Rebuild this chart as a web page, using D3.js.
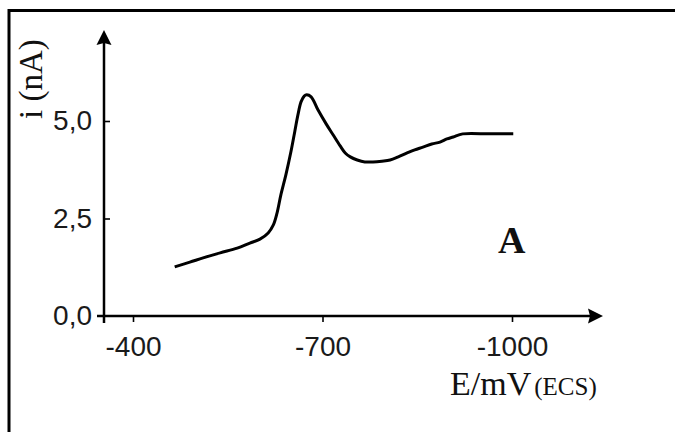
<!DOCTYPE html>
<html>
<head>
<meta charset="utf-8">
<script src="https://cdn.jsdelivr.net/npm/d3@7/dist/d3.min.js"></script>
<style>
  html, body { margin: 0; padding: 0; background: #fff; }
  svg { display: block; }
</style>
</head>
<body>
<svg id="chart" width="675" height="432"></svg>
<script>
// Polarogram: current i (nA) versus potential E (mV vs ECS)
const potential = [-466, -490, -511, -538, -565, -585, -601, -614, -622, -628, -634, -642, -650, -656, -661, -666, -671, -675, -682, -693, -706, -717, -728, -736, -744, -755, -767, -780, -794, -807, -820, -834, -846, -859, -873, -886, -897, -907, -922, -965, -1002];
const current   = [1.26, 1.38, 1.49, 1.62, 1.74, 1.87, 1.97, 2.13, 2.33, 2.64, 3.10, 3.62, 4.21, 4.72, 5.15, 5.49, 5.64, 5.67, 5.62, 5.28, 4.92, 4.64, 4.36, 4.18, 4.08, 4.00, 3.95, 3.95, 3.97, 4.00, 4.08, 4.18, 4.26, 4.33, 4.41, 4.46, 4.54, 4.59, 4.67, 4.67, 4.67];
const xTicks = [-400, -700, -1000];
const yTicks = [0, 2.5, 5];
const yTickLabels = ["0,0", "2,5", "5,0"];

const svg = d3.select("#chart");

const x = d3.scaleLinear().domain([-400, -1000]).range([133, 512]);
const y = d3.scaleLinear().domain([0, 5]).range([316, 121]);

// frame
svg.append("path")
  .attr("d", "M9,440 L9,10.5 L680,10.5")
  .attr("fill", "none").attr("stroke", "#000").attr("stroke-width", 3);

// axis lines with arrows
const xAxisY = y(0), yAxisX = 104;
svg.append("line").attr("x1", 97).attr("x2", 592).attr("y1", xAxisY).attr("y2", xAxisY)
  .attr("stroke", "#000").attr("stroke-width", 2.5);
svg.append("line").attr("x1", yAxisX).attr("x2", yAxisX).attr("y1", 323).attr("y2", 40)
  .attr("stroke", "#000").attr("stroke-width", 2.5);
svg.append("path").attr("d", `M603,${xAxisY} L588,${xAxisY - 7.5} L590,${xAxisY} L588,${xAxisY + 7.5} Z`).attr("fill", "#000");
svg.append("path").attr("d", `M${yAxisX},30 L${yAxisX - 7.5},45 L${yAxisX},43 L${yAxisX + 7.5},45 Z`).attr("fill", "#000");

// x axis ticks and labels
const xAxis = d3.axisBottom(x).tickValues(xTicks).tickSize(6).tickPadding(14)
  .tickFormat(d => String(d));
const gx = svg.append("g").attr("transform", `translate(0,${xAxisY})`).call(xAxis);
gx.select(".domain").remove();
gx.selectAll(".tick line").attr("stroke", "#000").attr("stroke-width", 1.6);
gx.selectAll(".tick text").attr("font-family", "'Liberation Sans', Arial, sans-serif")
  .attr("font-size", 28).attr("fill", "#1a1a1a");

// y axis ticks and labels
const yAxis = d3.axisRight(y).tickValues(yTicks).tickSize(6)
  .tickFormat((d, i) => yTickLabels[i]);
const gy = svg.append("g").attr("transform", `translate(${yAxisX},0)`).call(yAxis);
gy.select(".domain").remove();
gy.selectAll(".tick line").filter(d => d !== 0).attr("stroke", "#000").attr("stroke-width", 1.6);
gy.selectAll(".tick line").filter(d => d === 0).remove();
gy.selectAll(".tick text")
  .attr("x", -12).attr("text-anchor", "end")
  .attr("font-family", "'Liberation Sans', Arial, sans-serif")
  .attr("font-size", 28).attr("fill", "#1a1a1a");

// axis titles
svg.append("text")
  .attr("transform", "translate(42,119) rotate(-90)")
  .attr("font-family", "'Liberation Serif', 'Times New Roman', serif")
  .attr("font-size", 33).attr("fill", "#111")
  .text("i (nA)");

const xt = svg.append("text")
  .attr("x", 450).attr("y", 395)
  .attr("font-family", "'Liberation Serif', 'Times New Roman', serif")
  .attr("fill", "#111");
xt.append("tspan").attr("font-size", 34).text("E/mV");
xt.append("tspan").attr("font-size", 25).attr("dx", 3).text("(ECS)");

svg.append("text")
  .attr("x", 498).attr("y", 253)
  .attr("font-family", "'Liberation Serif', 'Times New Roman', serif")
  .attr("font-weight", "bold").attr("font-size", 38).attr("fill", "#111")
  .text("A");

// curve
const pts = potential.map((e, i) => [e, current[i]]);
const line = d3.line()
  .x(d => x(d[0])).y(d => y(d[1]))
  .curve(d3.curveCatmullRom.alpha(0.5));
svg.append("path").datum(pts)
  .attr("d", line)
  .attr("fill", "none").attr("stroke", "#000")
  .attr("stroke-width", 3).attr("stroke-linejoin", "round").attr("stroke-linecap", "butt");
</script>
</body>
</html>
